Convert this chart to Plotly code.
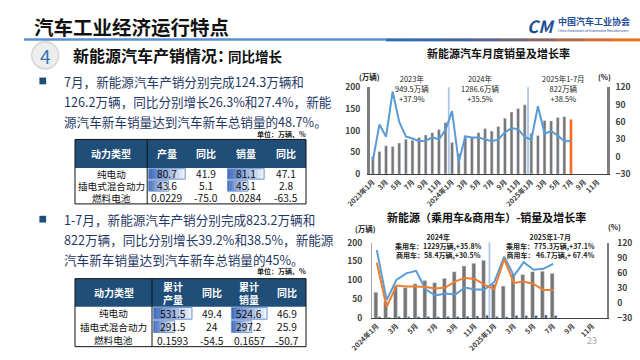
import plotly.graph_objects as go

W, H = 640, 360
FONT = "Noto Sans CJK SC, Noto Sans, sans-serif"


def X(px):
    return px / W


def Y(py):
    return 1 - py / H


# ---------------- data: top chart (NEV monthly sales & growth) ----------------
top_categories = [f"{y}年{m}月" for y in (2023, 2024, 2025) for m in range(1, 13)]
top_tickvals = top_categories[::2]
top_ticktext = ["2023年1月", "3月", "5月", "7月", "9月", "11月",
                "2024年1月", "3月", "5月", "7月", "9月", "11月",
                "2025年1月", "3月", "5月", "7月", "9月", "11月"]
top_sales = [40.8, 52.5, 65.3, 63.6, 71.7, 80.6, 78.0, 84.6, 90.4, 95.6, 102.6, 119.1,
             72.9, 47.7, 88.3, 85.0, 95.5, 104.9, 99.1, 110.0, 128.7, 143.0, 151.2, 159.6,
             94.4, 89.2, 123.7, 122.6, 130.7, 132.9, 126.2]
top_growth = [-6.3, 55.9, 34.8, 112.2, 60.2, 35.2, 31.6, 27.1, 27.7, 33.5, 30.0, 46.4,
              78.8, -9.2, 35.3, 33.5, 33.3, 30.1, 27.0, 30.0, 42.3, 49.6, 47.4, 34.4,
              29.4, 87.1, 40.1, 44.2, 36.9, 26.7, 27.4]
top_notes = [("2023年<br>949.5万辆<br>+37.9%", 403),
             ("2024年<br>1286.6万辆<br>+35.5%", 474),
             ("2025年1-7月<br>822万辆<br>+38.5%", 561)]

# ---------------- data: bottom chart (passenger & commercial) ----------------
bot_categories = [f"{y}年{m}月" for y in (2024, 2025) for m in range(1, 13)]
bot_tickvals = bot_categories[::2]
bot_ticktext = ["2024年1月", "3月", "5月", "7月", "9月", "11月",
                "2025年1月", "3月", "5月", "7月", "9月", "11月"]
passenger_sales = [69.0, 45.0, 84.0, 81.0, 91.0, 99.6, 94.0, 105.5, 123.0, 138.0, 145.5, 153.0,
                   90.0, 85.0, 116.1, 115.6, 123.1, 124.2, 119.0]
commercial_sales = [4.2, 3.0, 4.4, 4.0, 4.3, 4.6, 4.2, 4.8, 5.0, 5.5, 6.2, 8.2,
                    4.4, 4.2, 7.6, 7.0, 7.6, 8.7, 7.2]
commercial_growth = [105, 6, 46, 59, 64, 27, 15, 19, 17, 31, 27, 27,
                     42, 92, 54, 81, 66, 68, 78]
passenger_growth = [80, -8, 35, 33, 33, 32, 29, 31, 43, 50, 48, 36,
                    28, 87, 40, 43, 38, 26, 26]
bot_notes = [("2024年<br>乘用车：1229万辆,+35.8%<br>商用车：58.4万辆,+30.5%", 431),
             ("2025年1-7月<br>乘用车：775.3万辆,+37.1%<br>商用车： 46.7万辆,+ 67.4%", 547)]

# ---------------- data: tables ----------------
t1_header = ["动力类型", "产量", "同比", "销量", "同比"]
t1_types = ["纯电动", "插电式混合动力", "燃料电池"]
t1_prod = [80.7, 43.6, 0.0229]
t1_prod_yoy = ["41.9", "5.1", "-75.0"]
t1_sales = [81.1, 45.1, 0.0284]
t1_sales_yoy = ["47.1", "2.8", "-63.5"]

t2_header = ["动力类型", "累计<br>产量", "同比", "累计<br>销量", "同比"]
t2_types = ["纯电动", "插电式混合动力", "燃料电池"]
t2_prod = [531.5, 291.5, 0.1593]
t2_prod_yoy = ["49.4", "24", "-54.5"]
t2_sales = [524.6, 297.2, 0.1657]
t2_sales_yoy = ["46.9", "25.9", "-50.7"]

bullet1 = ["7月，新能源汽车产销分别完成124.3万辆和",
           "126.2万辆，同比分别增长26.3%和27.4%，新能",
           "源汽车新车销量达到汽车新车总销量的48.7%。"]
bullet2 = ["1-7月，新能源汽车产销分别完成823.2万辆和",
           "822万辆，同比分别增长39.2%和38.5%，新能源",
           "汽车新车销量达到汽车新车总销量的45%。"]

# ---------------- colours ----------------
GRAY_BAR = "#767676"
ORANGE = "#ED7D31"
BLUE_LINE = "#5B9BD5"
NAVY = "#1F4E79"
TEXT_BLUE = "#1F3864"
AX = "#404040"

fig = go.Figure()

# top chart traces
bar_colors = [GRAY_BAR] * (len(top_sales) - 1) + ["#F26B1D"]
fig.add_trace(go.Bar(x=top_categories[:len(top_sales)], y=top_sales, marker_color=bar_colors,
                     width=0.45, xaxis="x", yaxis="y", hoverinfo="skip"))
fig.add_trace(go.Scatter(x=top_categories[:len(top_growth)], y=top_growth, mode="lines",
                         line=dict(color=BLUE_LINE, width=2), xaxis="x", yaxis="y2",
                         hoverinfo="skip"))

# bottom chart traces
fig.add_trace(go.Bar(x=bot_categories[:len(passenger_sales)], y=passenger_sales,
                     marker_color=GRAY_BAR, width=0.4, offset=-0.3,
                     xaxis="x3", yaxis="y3", hoverinfo="skip"))
fig.add_trace(go.Bar(x=bot_categories[:len(commercial_sales)], y=commercial_sales,
                     marker_color=NAVY, width=0.28, offset=0.12,
                     xaxis="x3", yaxis="y3", hoverinfo="skip"))
fig.add_trace(go.Scatter(x=bot_categories[:len(commercial_growth)], y=commercial_growth,
                         mode="lines", line=dict(color=BLUE_LINE, width=2),
                         xaxis="x3", yaxis="y4", hoverinfo="skip"))
fig.add_trace(go.Scatter(x=bot_categories[:len(passenger_growth)], y=passenger_growth,
                         mode="lines", line=dict(color=ORANGE, width=2),
                         xaxis="x3", yaxis="y4", hoverinfo="skip"))

tickfont_x = dict(size=7, color=AX, family=FONT, weight="bold")
tickfont_y = dict(size=8.5, color=AX, family=FONT, weight="bold")

common_x = dict(type="category", tickangle=-45, tickfont=tickfont_x, showline=True,
                linecolor=AX, linewidth=1, showgrid=False, zeroline=False, ticks="",
                fixedrange=True)
common_y = dict(showgrid=False, zeroline=False, showline=True, ticks="",
                tickfont=tickfont_y, fixedrange=True)

shapes = []
annotations = []

# separators in charts
for xv in (11.5, 23.5):
    shapes.append(dict(type="line", xref="x", yref="y", x0=xv, x1=xv, y0=0, y1=205,
                       line=dict(color="#A9C8EA", width=1.8), layer="below"))
shapes.append(dict(type="line", xref="x3", yref="y3", x0=11.5, x1=11.5, y0=0, y1=213,
                   line=dict(color="#A9C8EA", width=1.8), layer="below"))


def ann(px, py, text, size, color="#000000", bold=False, xanchor="center", yanchor="middle",
        align="center", family=FONT):
    annotations.append(dict(x=X(px), y=Y(py), xref="paper", yref="paper", text=text,
                            showarrow=False, xanchor=xanchor, yanchor=yanchor, align=align,
                            font=dict(size=size, color=color, family=family,
                                      weight="bold" if bold else "normal")))


def rect(x0, y0, x1, y1, fill=None, line=None, lw=1):
    shapes.append(dict(type="rect", xref="paper", yref="paper",
                       x0=X(x0), x1=X(x1), y0=Y(y1), y1=Y(y0),
                       fillcolor=fill if fill else "rgba(0,0,0,0)",
                       line=dict(color=line if line else "rgba(0,0,0,0)", width=lw if line else 0)))


# ---------------- header ----------------
ann(8, 20, "汽车工业经济运行特点", 19.5, "#111111", bold=True, xanchor="left")
shapes.append(dict(type="line", xref="paper", yref="paper", x0=0, x1=X(376), y0=Y(33.5), y1=Y(33.5),
                   line=dict(color="#5A8FD0", width=2.5)))
grad = ["#2F6DB5", "#3468AA", "#41659C", "#55648C", "#6E6478", "#8C6663", "#AE6A4C", "#D06E34", "#E8731F"]
seg = (640 - 376) / len(grad)
for i, c in enumerate(grad):
    shapes.append(dict(type="line", xref="paper", yref="paper", x0=X(376 + i * seg), x1=X(376 + (i + 1) * seg + 0.5),
                       y0=Y(34), y1=Y(34), line=dict(color=c, width=3)))
ann(537, 19, "<i>CM</i>", 17, "#1F4E99", bold=True)
ann(553, 15.5, "中国汽车工业协会", 9, "#1F4E99", bold=True, xanchor="left")
ann(553, 24.5, "China Association of Automobile Manufacturers", 3.2, "#1F4E99", xanchor="left")

# section title
shapes.append(dict(type="circle", xref="paper", yref="paper", x0=X(8), x1=X(36), y0=Y(64), y1=Y(36),
                   fillcolor="#EDEDED", line=dict(color="#D6D6D6", width=1.5)))
ann(22, 50, "4", 19, "#2E75B6")
ann(49, 50, "新能源汽车产销情况：", 16, "#111111", bold=True, xanchor="left")
ann(210, 51, "同比增长", 13.5, "#111111", bold=True, xanchor="left")

# bullets
for by, lines in ((77, bullet1), (220, bullet2)):
    rect(16, by - 4, 23, by + 3, fill=NAVY)
    for i, t in enumerate(lines):
        ann(39, by + i * 20.5, t, 12.6, TEXT_BLUE, xanchor="left")

ann(295, 131, "单位：万辆、%", 7, "#222222", bold=True, xanchor="right")
ann(295, 273.5, "单位：万辆、%", 7, "#222222", bold=True, xanchor="right")


# ---------------- tables ----------------
def draw_table(cols, top, head_bottom, row_h, header, types, prod, prod_yoy, sales, sales_yoy):
    left, right = cols[0], cols[-1]
    bottom = head_bottom + row_h * len(types)
    rect(left, top, right, head_bottom, fill=NAVY)
    for j, htxt in enumerate(header):
        ann((cols[j] + cols[j + 1]) / 2, (top + head_bottom) / 2, htxt, 10, "#FFFFFF", bold=True)
    # data bars
    for colj, vals in ((1, prod), (3, sales)):
        vmax = max(vals)
        full = cols[colj + 1] - cols[colj] - 3
        for i, v in enumerate(vals):
            wpx = v / vmax * full
            if wpx < 0.8:
                continue
            x0 = cols[colj] + 1.5
            y0 = head_bottom + i * row_h + 0.8
            y1 = y0 + row_h - 1.6
            n = 12
            for k in range(n):
                t = k / (n - 1)
                r = int(70 + (235 - 70) * t)
                g = int(112 + (241 - 112) * t)
                b = int(190 + (250 - 190) * t)
                rect(x0 + wpx * k / n, y0, x0 + wpx * (k + 1) / n + 0.3, y1, fill=f"rgb({r},{g},{b})")
            rect(x0, y0, x0 + wpx, y1, line="#6F95D2", lw=1)
    for i in range(len(types)):
        cy = head_bottom + (i + 0.5) * row_h
        row = [types[i], f"{prod[i]}", prod_yoy[i], f"{sales[i]}", sales_yoy[i]]
        for j, txt in enumerate(row):
            ann((cols[j] + cols[j + 1]) / 2, cy, txt, 9.6 if j == 0 else 10.2, "#111111")
    rect(left, top, right, bottom, line="#111111", lw=1)
    shapes.append(dict(type="line", xref="paper", yref="paper", x0=X(cols[1]), x1=X(cols[1]),
                       y0=Y(bottom), y1=Y(top), line=dict(color="#111111", width=1)))


draw_table([53, 128, 169, 210, 251, 293], 137, 166.5, 12.4, t1_header, t1_types,
           t1_prod, t1_prod_yoy, t1_sales, t1_sales_yoy)
draw_table([53, 133, 176, 214, 254, 293], 281, 310, 13.8, t2_header, t2_types,
           t2_prod, t2_prod_yoy, t2_sales, t2_sales_yoy)

# ---------------- chart texts ----------------
ann(493, 48, "新能源汽车月度销量及增长率", 11, "#111111", bold=True)
ann(359, 72, "(万辆)", 7.5, "#222222", bold=True)
ann(603, 72, "(%)", 7.5, "#222222", bold=True)
for txt, px in top_notes:
    ann(px, 84, txt, 7.5, "#222222")

ann(480, 217, "新能源（乘用车&商用车）-销量及增长率", 11, "#111111", bold=True)
ann(355, 229, "(万辆)", 7.5, "#222222", bold=True)
ann(613, 227, "(%)", 7.5, "#222222", bold=True)
for txt, px in bot_notes:
    ann(px, 247, txt, 7, "#222222", bold=True)

ann(590, 345, "23", 9, "#A6A6A6")

fig.update_layout(
    width=W, height=H, autosize=False,
    margin=dict(l=0, r=0, t=0, b=0),
    paper_bgcolor="#FFFFFF", plot_bgcolor="rgba(0,0,0,0)",
    showlegend=False, barmode="overlay",
    font=dict(family=FONT),
    xaxis=dict(common_x, domain=[X(359), X(606)], range=[-0.5, 35.5], anchor="y",
               categoryorder="array", categoryarray=top_categories,
               tickvals=top_tickvals, ticktext=top_ticktext),
    yaxis=dict(common_y, domain=[Y(173), Y(83)], range=[0, 200], dtick=50, anchor="x",
               linecolor="#7F7F7F", linewidth=2.5, ticklabelstandoff=5),
    yaxis2=dict(common_y, overlaying="y", side="right", anchor="x", range=[-30, 120], dtick=30,
                linecolor="#7F7F7F", linewidth=2.5, ticklabelstandoff=4),
    xaxis3=dict(common_x, domain=[X(361.5), X(605.7)], range=[-0.5, 23.5], anchor="y3",
                categoryorder="array", categoryarray=bot_categories,
                tickvals=bot_tickvals, ticktext=bot_ticktext),
    yaxis3=dict(common_y, domain=[Y(322), Y(243.7)], range=[0, 200], dtick=50, anchor="x3",
                linecolor="#A6A6A6", linewidth=1, ticklabelstandoff=7),
    yaxis4=dict(common_y, overlaying="y3", side="right", anchor="x3", range=[-30, 120], dtick=30,
                linecolor="#7F7F7F", linewidth=2.5, ticklabelstandoff=6),
    shapes=shapes,
    annotations=annotations,
)

fig.write_html("out.html", config={"displayModeBar": False, "staticPlot": True},
               post_script="document.body.style.margin='0';document.body.style.overflow='hidden';")
